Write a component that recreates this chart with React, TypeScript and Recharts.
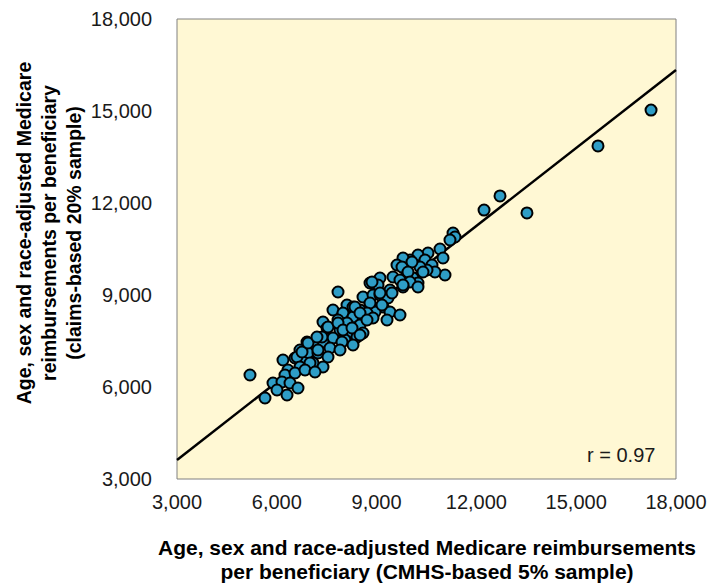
import React from 'react';
import {
  ScatterChart, Scatter, XAxis, YAxis, ReferenceArea, ReferenceLine,
} from 'recharts';

// CMHS-based 5% sample (x) vs claims-based 20% sample (y), per beneficiary
const cmhsValues = [
  17250, 15655, 13520, 12710, 12230,
  11297, 11357, 11206, 10906, 10996, 11056, 10545, 10244, 10455, 10004,
  10665, 10755, 10515, 10305, 9794, 9914, 10094, 10244, 9764,
  9794, 10064, 9613, 9764, 10395, 9944, 9493, 9703, 10004, 10244, 9794,
  9102, 8802, 9042, 9403, 8591, 8892, 9102, 9343, 9463, 8802, 9192, 8952,
  9403, 9703, 8711,
  7840, 8862, 9794, 9102, 8802, 9162, 8110, 8291, 8501, 7689, 7990, 8291,
  8711, 8892, 9313, 7389, 7840, 8110, 8501, 7509, 7900, 8261, 8591, 7689,
  8050, 8411, 7389, 8291,
  8351, 8501, 8711, 7539, 7840, 7990, 8261, 8501, 7359, 7960, 6908, 7088,
  7599, 7900, 6697, 6938, 7238, 7539, 6186, 6547, 6788, 7088, 7389,
  5194, 6607, 6758, 6938, 7208, 7238, 6998, 6697, 6337, 6246, 6547, 6848,
  7148, 5886, 6156, 6397, 6637, 6006, 6307, 5645,
];
const claimsValues = [
  15030, 13860, 11675, 12230, 11770,
  11021, 10891, 10793, 10500, 10206, 9652, 10369, 10304, 10141, 10141,
  9978, 9750, 9815, 9913, 10043, 9717, 9554, 9391, 9424,
  10206, 10076, 9978, 9913, 9750, 9750, 9587, 9489, 9424, 9261, 9261,
  9554, 9391, 9326, 9163, 8934, 9000, 9000, 8902, 9065, 8674, 8608, 8445,
  8445, 8347, 8347,
  9097, 9424, 9326, 9065, 8739, 8674, 8674, 8608, 8510, 8510, 8413, 8282,
  8413, 8250, 8184, 8119, 8184, 8087, 8021, 7924, 7858, 7793, 7760, 7597,
  7532, 7630, 7467, 7369,
  8608, 8413, 8184, 7956, 8087, 7858, 7924, 7695, 7630, 7467, 7467, 7369,
  7271, 7206, 7206, 7108, 7108, 6978, 6880, 6945, 6815, 6782, 6652,
  6391, 6978, 7141, 7434, 7630, 7206, 6782, 6652, 6554, 6391, 6456, 6554,
  6489, 6130, 6163, 6130, 5967, 5902, 5739, 5641,
];

const axisTicks = [3000, 6000, 9000, 12000, 15000, 18000];
const fitLine = [
  { x: 3000, y: 3620 },
  { x: 18000, y: 16340 },
];

const points = cmhsValues.map((x, i) => ({ x, y: claimsValues[i] }));

const fmt = (v: number) => v.toLocaleString('en-US');
const font = '"Liberation Sans", Arial, sans-serif';

const Dot = (props: any) => {
  const { cx, cy } = props;
  if (cx == null || cy == null) return null;
  return <circle cx={cx} cy={cy} r={5.5} fill="#2E9DC6" stroke="#000" strokeWidth={2} />;
};

export default function App() {
  return (
    <div style={{ position: 'absolute', left: 0, top: 0, width: 709, height: 583, background: '#fff', fontFamily: font }}>
      <ScatterChart width={709} height={583} margin={{ top: 19, right: 33, bottom: 0, left: 0 }}>
        <XAxis
          type="number" dataKey="x" domain={[3000, 18000]} ticks={axisTicks}
          tickFormatter={fmt} axisLine={false} tickLine={false} tickMargin={10}
          height={104} tick={{ fontSize: 20, fill: '#1a1a1a', fontFamily: font }}
        />
        <YAxis
          type="number" dataKey="y" domain={[3000, 18000]} ticks={axisTicks}
          tickFormatter={fmt} axisLine={false} tickLine={false} tickMargin={19}
          width={177} tick={{ fontSize: 20, fill: '#1a1a1a', fontFamily: font }}
        />
        <ReferenceArea x1={3000} x2={18000} y1={3000} y2={18000} fill="#FFF8D4" fillOpacity={1} stroke="#808080" strokeWidth={1} />
        <ReferenceLine segment={fitLine} stroke="#000" strokeWidth={2.5} />
        <Scatter data={points} shape={<Dot />} isAnimationActive={false} />
      </ScatterChart>
      <div style={{ position: 'absolute', left: 587, top: 444, fontSize: 20, color: '#1a1a1a' }}>r = 0.97</div>
      <div style={{
        position: 'absolute', left: 49, top: 233, width: 440, transform: 'translate(-50%, -50%) rotate(-90deg)',
        textAlign: 'center', fontWeight: 'bold', fontSize: 19.5, lineHeight: '25px', color: '#000',
      }}>
        Age, sex and race-adjusted Medicare<br />reimbursements per beneficiary<br />(claims-based 20% sample)
      </div>
      <div style={{
        position: 'absolute', left: 427, top: 560, width: 620, transform: 'translate(-50%, -50%)',
        textAlign: 'center', fontWeight: 'bold', fontSize: 21, lineHeight: '24px', color: '#000',
      }}>
        Age, sex and race-adjusted Medicare reimbursements<br />per beneficiary (CMHS-based 5% sample)
      </div>
    </div>
  );
}
